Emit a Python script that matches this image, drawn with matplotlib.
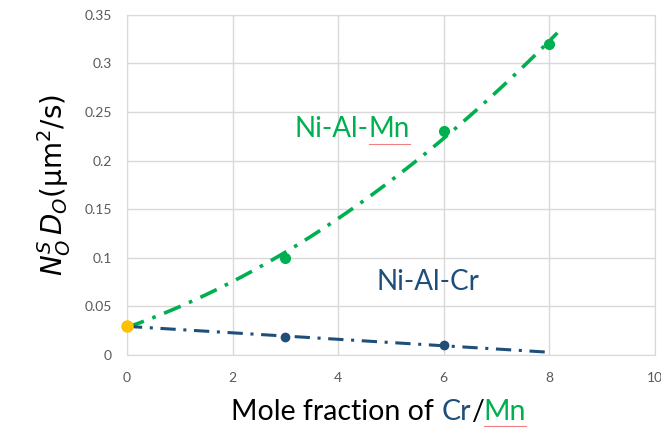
import numpy as np
import matplotlib.pyplot as plt

plt.rcParams['font.family'] = ['Lato', 'DejaVu Sans']

# data
x_mn = [3, 6, 8]
y_mn = [0.10, 0.23, 0.32]
x_cr = [3, 6]
y_cr = [0.018, 0.010]
x0, y0 = 0, 0.030

green = "#00B050"
blue = "#1F4E79"
yellow = "#FFC000"

fig = plt.figure(figsize=(6.61, 4.37), dpi=100)
ax = fig.add_axes([0.192, 0.188, 0.799, 0.778])

# trendlines (fit including the shared origin point)
pg = np.polyfit([x0] + x_mn, [y0] + y_mn, 2)
xg = np.linspace(0, 8.15, 200)
ax.plot(xg, np.polyval(pg, xg), c=green, lw=2.6, ls=(0, (5, 2.5, 1, 2.5)), zorder=2)
pb = np.polyfit([x0] + x_cr, [y0] + y_cr, 1)
xb = np.linspace(0, 8, 50)
ax.plot(xb, np.polyval(pb, xb), c=blue, lw=2.2, ls=(0, (5, 2.5, 1, 2.5)), zorder=2)

ax.plot(x_mn, y_mn, ls="", marker="o", ms=7, c=green, zorder=3)
ax.plot(x_cr, y_cr, ls="", marker="o", ms=6, c=blue, zorder=3)
ax.plot([x0], [y0], ls="", marker="o", ms=8, c=yellow, zorder=4, clip_on=False)

ax.set_xlim(0, 10)
ax.set_ylim(0, 0.35)
ax.set_xticks(np.arange(0, 11, 2))
ax.set_yticks(np.arange(0, 0.36, 0.05))
ax.set_yticklabels(["0", "0.05", "0.1", "0.15", "0.2", "0.25", "0.3", "0.35"])
ax.grid(color="#D9D9D9", lw=1)
ax.set_axisbelow(True)
for s in ax.spines.values():
    s.set_color("#D9D9D9")
ax.tick_params(length=0, colors="#595959", labelsize=10)
ax.tick_params(axis="x", pad=12)
ax.tick_params(axis="y", pad=11)

ax.text(3.18, 0.232, "Ni-Al-", color=green, fontsize=20, va="center")
lab_mn = ax.annotate("Mn", xy=(1, 0.5), xycoords=ax.texts[-1], va="center",
                     fontsize=20, color=green)
ax.text(4.73, 0.075, "Ni-Al-Cr", color=blue, fontsize=20, va="center")

ax.set_ylabel(r"$N_O^S\,D_O(\mathrm{\mu m^2/s})$", fontsize=20, labelpad=8)

# x label with coloured element names
t1 = fig.text(0.35, 0.04, "Mole fraction of ", fontsize=20.5, color="black")
t2 = ax.annotate("Cr", xy=(1, 0), xycoords=t1, fontsize=20.5, color=blue, va="bottom")
t3 = ax.annotate("/", xy=(1, 0), xycoords=t2, fontsize=20.5, color="black", va="bottom")
t4 = ax.annotate("Mn", xy=(1, 0), xycoords=t3, fontsize=20.5, color=green, va="bottom")

# faint red spell-check underline under the two "Mn"
fig.canvas.draw()
r = fig.canvas.get_renderer()
for t in (lab_mn, t4):
    bb = t.get_window_extent(r).transformed(fig.transFigure.inverted())
    fig.add_artist(plt.Line2D([bb.x0, bb.x1], [bb.y0 - 0.004, bb.y0 - 0.004],
                              transform=fig.transFigure, color="#F08080", lw=0.8))

fig.savefig("out.png", dpi=100)
